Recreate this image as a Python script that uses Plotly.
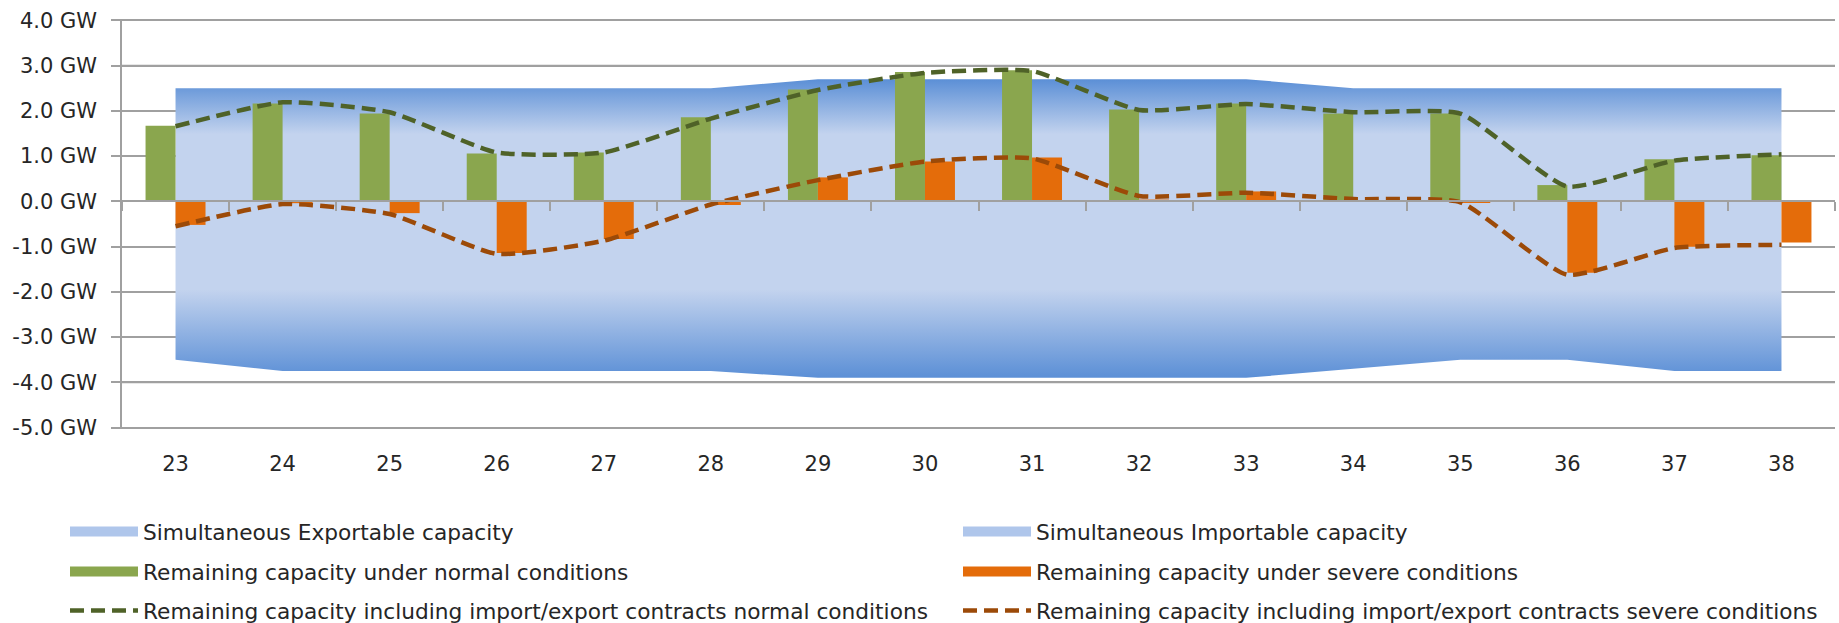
import plotly.graph_objects as go

# ---------------- data ----------------
categories = ["23", "24", "25", "26", "27", "28", "29", "30",
              "31", "32", "33", "34", "35", "36", "37", "38"]

export_capacity = [2.5, 2.5, 2.5, 2.5, 2.5, 2.5, 2.7, 2.7,
                   2.7, 2.7, 2.7, 2.5, 2.5, 2.5, 2.5, 2.5]
import_capacity = [-3.5, -3.75, -3.75, -3.75, -3.75, -3.75, -3.9, -3.9,
                   -3.9, -3.9, -3.9, -3.7, -3.5, -3.5, -3.75, -3.75]

normal_remaining = [1.67, 2.16, 1.94, 1.06, 1.08, 1.86, 2.47, 2.86,
                    2.90, 2.03, 2.16, 1.94, 1.94, 0.36, 0.93, 1.02]
severe_remaining = [-0.52, -0.04, -0.26, -1.14, -0.83, -0.08, 0.53, 0.88,
                    0.97, 0.04, 0.22, 0.0, -0.03, -1.58, -1.00, -0.91]

normal_with_contracts = [1.66, 2.19, 1.97, 1.08, 1.08, 1.83, 2.46, 2.84,
                         2.88, 2.02, 2.15, 1.97, 1.94, 0.33, 0.90, 1.04]
severe_with_contracts = [-0.55, -0.06, -0.28, -1.16, -0.87, -0.07, 0.47, 0.88,
                         0.95, 0.12, 0.19, 0.05, -0.02, -1.62, -1.03, -0.96]

y_min, y_max = -5, 4
y_tick_vals = [4, 3, 2, 1, 0, -1, -2, -3, -4, -5]
y_tick_text = ["4.0 GW", "3.0 GW", "2.0 GW", "1.0 GW", "0.0 GW",
               "-1.0 GW", "-2.0 GW", "-3.0 GW", "-4.0 GW", "-5.0 GW"]

names = [
    "Simultaneous Exportable capacity",
    "Simultaneous Importable capacity",
    "Remaining capacity under normal conditions",
    "Remaining capacity under severe conditions",
    "Remaining capacity including import/export contracts normal conditions",
    "Remaining capacity including import/export contracts severe conditions",
]

# ---------------- style ----------------
FONT = "DejaVu Sans"
TXT = "#262626"
GRID = "#a0a0a0"
DARK_BLUE = "#5b8fd6"
LIGHT_BLUE = "#c3d3ee"
SWATCH_BLUE = "#afc6eb"
GREEN_BAR = "#8aa64e"
ORANGE_BAR = "#e46c0a"
GREEN_LINE = "#4f6228"
ORANGE_LINE = "#9c4a08"
DASH = "14px,7px"

# small padding so the 4.0 / -5.0 grid lines are fully visible
PAD = 0.03
y_range = [y_min - PAD, y_max + PAD]
zero_pos = (0 - y_range[0]) / (y_range[1] - y_range[0])

fig = go.Figure()

# areas (main subplot, drawn below the overlay)
fig.add_trace(go.Scatter(
    x=categories, y=export_capacity, name=names[0], mode="none",
    fill="tozeroy", fillcolor=LIGHT_BLUE,
    fillgradient=dict(type="vertical", start=0, stop=max(export_capacity),
                      colorscale=[[0, LIGHT_BLUE], [0.55, LIGHT_BLUE], [1, DARK_BLUE]]),
    xaxis="x", yaxis="y", showlegend=False, hoverinfo="skip"))
fig.add_trace(go.Scatter(
    x=categories, y=import_capacity, name=names[1], mode="none",
    fill="tozeroy", fillcolor=LIGHT_BLUE,
    fillgradient=dict(type="vertical", start=min(import_capacity), stop=0,
                      colorscale=[[0, DARK_BLUE], [0.5, LIGHT_BLUE], [1, LIGHT_BLUE]]),
    xaxis="x", yaxis="y", showlegend=False, hoverinfo="skip"))

# bars (overlay subplot -> drawn above the areas)
fig.add_trace(go.Bar(x=categories, y=normal_remaining, name=names[2],
                     marker=dict(color=GREEN_BAR, line=dict(width=0)),
                     xaxis="x2", yaxis="y2", legendgroup="g2", showlegend=False))
fig.add_trace(go.Bar(x=categories, y=severe_remaining, name=names[3],
                     marker=dict(color=ORANGE_BAR, line=dict(width=0)),
                     xaxis="x2", yaxis="y2", legendgroup="g3", showlegend=False))

# legend keys drawn as wide rectangles (like the original legend)
swatches = [
    (names[0], SWATCH_BLUE, "legend", "g0"),
    (names[1], SWATCH_BLUE, "legend2", "g1"),
    (names[2], GREEN_BAR, "legend3", "g2"),
    (names[3], ORANGE_BAR, "legend4", "g3"),
]
for nm, col, leg, grp in swatches:
    fig.add_trace(go.Scatter(x=[None], y=[None], name=nm, mode="lines",
                             line=dict(color=col, width=10),
                             xaxis="x", yaxis="y", legend=leg, legendgroup=grp,
                             hoverinfo="skip"))

# dashed lines
fig.add_trace(go.Scatter(x=categories, y=normal_with_contracts, name=names[4],
                         mode="lines",
                         line=dict(color=GREEN_LINE, width=4.5, dash=DASH,
                                   shape="spline", smoothing=0.5),
                         xaxis="x2", yaxis="y2", legend="legend5"))
fig.add_trace(go.Scatter(x=categories, y=severe_with_contracts, name=names[5],
                         mode="lines",
                         line=dict(color=ORANGE_LINE, width=4.5, dash=DASH,
                                   shape="spline", smoothing=0.5),
                         xaxis="x2", yaxis="y2", legend="legend6"))

# horizontal grid lines at the tick values (below all traces)
for v in y_tick_vals:
    fig.add_shape(type="line", xref="paper", x0=0, x1=1, yref="y", y0=v, y1=v,
                  line=dict(color=GRID, width=1.5), layer="below")

W, H = 1839, 623
ML, MR, MT, MB = 122, 4, 19, 194

# legend grid: two columns x three rows (pixel positions of the legend boxes)
COL_X = [65, 958]
ROW_Y = [532, 572, 611]

legend_common = dict(orientation="h", xref="container", yref="container",
                     xanchor="left", yanchor="middle", itemwidth=68,
                     font=dict(family=FONT, size=21.7, color=TXT),
                     bgcolor="rgba(0,0,0,0)", borderwidth=0,
                     itemclick=False, itemdoubleclick=False)
legends = {}
for i, key in enumerate(["legend", "legend2", "legend3", "legend4", "legend5", "legend6"]):
    legends[key] = dict(legend_common, x=COL_X[i % 2] / W, y=1 - ROW_Y[i // 2] / H)

fig.update_layout(
    width=W, height=H,
    margin=dict(l=ML, r=MR, t=MT, b=MB, pad=0),
    paper_bgcolor="white", plot_bgcolor="white",
    font=dict(family=FONT, size=21, color=TXT),
    barmode="group", bargap=0.44, bargroupgap=0,
    hovermode=False,
    showlegend=True,
    **legends,
    xaxis=dict(type="category", categoryorder="array", categoryarray=categories,
               range=[-0.5, len(categories) - 0.5], automargin=False,
               showline=False, showgrid=False, zeroline=False,
               ticks="", ticklabelstandoff=20,
               tickfont=dict(family=FONT, size=21, color=TXT)),
    yaxis=dict(range=y_range, tickvals=y_tick_vals, ticktext=y_tick_text,
               automargin=False,
               showgrid=True, gridcolor=GRID, gridwidth=1.5,
               zeroline=False, showline=True, linecolor=GRID, linewidth=1.5,
               ticks="outside", ticklen=9, tickcolor=GRID, tickwidth=1.5,
               ticklabelstandoff=10,
               tickfont=dict(family=FONT, size=21, color=TXT)),
    xaxis2=dict(type="category", categoryorder="array", categoryarray=categories,
                range=[-0.5, len(categories) - 0.5], overlaying="x",
                anchor="free", position=zero_pos, automargin=False,
                showline=True, linecolor=GRID, linewidth=1.5,
                ticks="outside", tickson="boundaries", ticklen=9,
                tickcolor=GRID, tickwidth=1.5,
                showticklabels=False, showgrid=False, zeroline=False),
    yaxis2=dict(range=y_range, overlaying="y", anchor="x2", visible=False,
                automargin=False, showgrid=False, zeroline=False),
)

# remove the browser's default 8px page margin so the figure sits at (0, 0)
fig.write_html("out.html",
               config={"displayModeBar": False},
               post_script="document.body.style.margin='0';"
                           "document.body.style.overflow='hidden';")
